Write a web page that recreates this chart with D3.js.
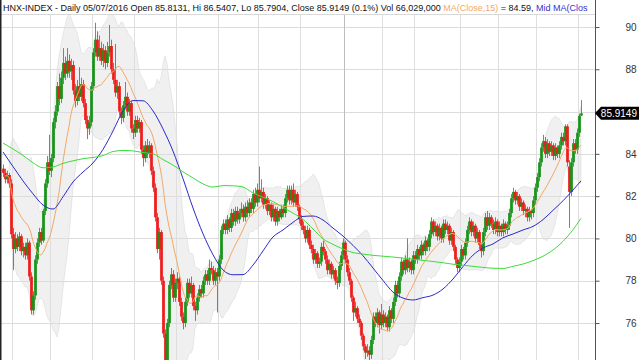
<!DOCTYPE html>
<html><head><meta charset="utf-8">
<script src="https://cdn.jsdelivr.net/npm/d3@7"></script>
<style>body{margin:0;background:#fff}svg{display:block}</style>
</head><body><svg id="c" width="640" height="360"></svg>
<script>
const open=[83.3,83.1,82.8,83.0,82.6,80.2,79.5,80.0,79.6,80.1,
79.4,79.6,79.2,79.8,78.2,76.6,77.3,79.0,79.8,80.3,
79.9,81.3,82.6,83.6,83.2,83.8,85.5,86.0,87.2,86.6,
87.6,88.3,87.8,88.4,87.9,88.2,87.0,86.5,87.2,86.7,
87.3,86.4,85.6,85.2,85.5,87.2,88.8,89.4,88.6,89.0,
88.4,88.9,88.3,88.8,89.1,88.0,87.5,86.9,87.2,86.0,
85.7,86.3,86.7,86.0,86.4,85.2,85.0,85.6,85.2,85.5,
84.2,83.8,84.4,84.0,84.4,83.2,82.4,81.0,79.5,80.3,
78.0,75.5,73.9,76.0,77.8,78.3,77.2,77.9,78.1,77.0,
76.3,76.0,77.0,77.9,77.4,77.8,76.8,76.6,77.2,77.6,
77.4,78.0,78.3,78.0,78.6,78.5,78.0,78.4,78.2,79.0,
80.4,80.7,80.4,80.9,80.5,81.2,80.8,81.3,80.9,81.2,
81.4,81.0,81.5,81.2,81.7,81.4,82.1,81.7,82.3,81.9,
82.2,81.6,81.9,81.3,81.6,81.0,81.4,80.8,81.3,81.0,
81.4,81.2,81.9,82.3,81.8,82.3,81.7,82.1,81.5,80.9,
80.6,80.4,80.0,80.4,79.7,79.5,79.0,79.3,78.8,78.9,
79.6,79.4,79.0,78.5,78.8,78.3,78.5,78.0,77.9,78.7,
79.2,79.8,79.0,78.4,78.0,77.2,76.5,76.7,76.2,76.0,
75.4,74.9,74.6,74.7,74.5,75.2,76.3,76.0,76.5,75.9,
76.4,76.0,76.3,75.8,76.6,76.2,77.0,77.8,77.4,78.2,
78.9,78.5,79.0,78.6,78.9,78.5,79.2,79.0,79.5,79.2,
79.7,79.4,79.9,79.6,80.2,80.8,80.3,80.6,80.1,80.5,
80.0,80.7,80.4,80.6,79.9,80.3,79.6,79.0,78.6,78.9,
79.5,79.2,79.8,80.4,80.8,80.3,80.6,80.0,80.3,79.7,
79.4,80.3,81.0,80.6,81.0,80.7,80.4,80.8,80.3,80.6,
80.3,80.7,80.4,80.6,81.2,81.9,82.2,81.8,82.0,81.5,
81.7,81.3,81.4,81.0,81.3,81.2,81.8,82.4,82.9,83.6,
84.3,84.6,84.0,84.5,84.1,84.4,83.9,84.3,84.0,84.4,
84.8,84.6,85.3,83.4,82.2,83.6,84.5,84.2,85.0,85.8131];
const high=[83.5,83.3,83.2,83.1,82.8,80.5,80.3,80.2,80.3,80.2,
79.8,79.8,80.0,79.9,78.4,77.5,79.2,80.0,80.5,80.5,
81.4,82.8,83.9,84.9,84.0,85.7,86.3,87.4,87.8,87.9,
89.0,88.6,89.0,88.7,88.5,88.4,87.3,87.5,88.1,87.6,
87.5,86.6,85.8,85.8,87.4,89.0,90.2,89.8,89.6,89.3,
89.2,89.1,89.3,90.1,89.4,88.3,89.2,87.5,87.4,86.2,
86.5,87.4,86.9,86.6,86.5,85.4,85.8,85.8,85.7,85.6,
84.4,84.6,84.7,84.6,84.5,83.4,82.6,81.2,80.5,80.4,
78.2,75.7,76.2,78.0,78.6,78.5,78.1,78.4,78.2,77.2,
76.5,77.2,78.1,78.1,78.2,77.9,77.0,77.4,77.8,77.8,
78.2,78.5,78.5,79.0,78.9,78.7,78.6,78.6,79.2,80.6,
80.9,80.9,81.1,81.0,81.4,81.4,81.5,81.5,81.4,81.7,
81.6,81.7,81.8,81.9,81.9,82.3,82.4,82.6,83.4,82.8,
82.4,82.1,82.0,81.8,81.7,81.6,81.5,81.5,81.4,81.6,
81.6,82.1,82.5,82.5,82.5,82.6,82.3,82.2,81.6,81.1,
80.8,80.6,80.6,80.5,79.9,79.7,79.5,79.4,79.1,79.8,
79.9,79.5,79.2,79.0,78.9,78.7,78.6,78.2,78.9,79.4,
80.0,79.9,79.2,78.6,78.1,77.3,77.0,76.8,76.4,76.1,
75.5,75.0,75.0,74.9,75.4,76.5,76.5,76.7,76.6,76.9,
76.6,76.5,76.4,76.8,76.7,77.2,78.0,78.0,78.4,79.1,
79.0,79.2,80.0,79.1,79.0,79.4,79.4,79.7,79.6,79.9,
79.8,80.1,80.0,80.4,81.0,80.9,80.8,80.7,80.7,80.6,
80.9,80.9,80.8,80.7,80.5,80.4,79.7,79.1,79.1,79.7,
79.6,80.0,80.6,81.0,80.9,80.8,80.7,80.5,80.4,79.8,
80.5,81.2,81.3,81.2,81.1,80.9,81.0,80.9,80.8,80.7,
80.9,80.8,80.8,81.4,82.1,82.4,82.3,82.2,82.1,81.9,
81.8,81.6,81.5,81.5,81.4,82.0,82.6,83.1,83.8,84.5,
84.9,84.8,84.7,84.6,84.6,84.5,84.5,84.4,84.6,85.0,
85.0,85.4,85.4,83.7,83.8,84.7,84.7,85.2,85.9,86.5407];
const low=[82.9,82.6,82.6,82.4,80.0,78.5,79.3,79.4,79.4,79.2,
79.1,79.0,79.0,78.0,76.4,76.4,77.1,78.8,79.6,79.7,
79.8,81.1,82.4,83.0,82.9,83.6,85.2,85.8,86.3,86.4,
87.3,87.5,87.6,87.6,87.5,86.8,86.2,86.3,86.5,86.5,
86.2,85.4,84.7,84.9,85.3,87.0,88.6,88.4,88.4,88.2,
88.1,88.0,88.1,88.6,87.8,87.3,86.7,86.6,85.8,85.4,
85.5,86.1,85.8,85.8,85.0,84.7,84.8,85.0,85.0,84.0,
83.4,83.6,83.8,83.8,83.0,82.2,80.8,79.3,79.0,77.8,
75.3,73.5,73.7,75.8,77.6,77.0,77.0,77.6,76.8,76.1,
75.7,75.8,76.8,77.2,77.2,76.6,76.1,76.4,77.0,77.2,
77.2,77.8,77.8,77.8,78.3,77.8,77.8,76.5,78.0,78.8,
80.2,80.2,80.2,80.3,80.3,80.6,80.6,80.7,80.7,81.0,
80.8,80.8,81.0,81.0,81.2,81.2,81.5,81.5,81.7,81.7,
81.4,81.4,81.1,81.1,80.8,80.8,80.6,80.6,80.8,80.9,
81.0,81.0,81.7,81.6,81.6,81.5,81.5,81.3,80.7,80.4,
80.2,79.8,79.8,79.5,79.3,78.8,78.8,78.6,78.6,78.7,
79.2,78.8,78.3,78.3,78.1,78.1,77.8,77.6,77.7,78.5,
79.0,78.8,78.2,77.8,77.0,76.1,76.3,76.0,75.8,75.2,
74.7,74.3,74.4,74.2,74.3,75.0,75.8,75.8,75.5,75.7,
75.8,75.8,75.6,75.6,76.0,76.0,76.8,77.2,77.2,78.0,
78.3,78.3,78.4,78.4,78.3,78.3,78.8,78.8,79.0,79.0,
79.2,79.2,79.4,79.4,80.0,80.1,80.1,79.9,79.9,79.8,
79.8,80.2,80.2,79.7,79.7,79.4,78.8,78.4,78.4,78.7,
79.0,79.0,79.6,80.2,80.1,80.1,79.8,79.8,79.5,79.1,
79.2,80.1,80.4,80.4,80.5,80.2,80.2,80.1,80.1,80.1,
80.1,80.2,80.2,80.4,81.0,81.7,81.6,81.6,81.3,81.3,
81.1,81.0,80.8,80.8,80.9,81.0,81.6,82.2,82.7,83.4,
84.1,83.8,83.8,83.9,83.9,83.7,83.7,83.8,83.8,84.2,
84.4,84.4,83.4,80.5,82.0,83.4,84.0,84.0,84.8,85.7904];
const close=[83.1,82.8,83.0,82.6,80.2,79.5,80.0,79.6,80.1,79.4,
79.6,79.2,79.8,78.2,76.6,77.3,79.0,79.8,80.3,79.9,
81.3,82.6,83.6,83.2,83.8,85.5,86.0,87.2,86.6,87.6,
88.3,87.8,88.4,87.9,88.2,87.0,86.5,87.2,86.7,87.3,
86.4,85.6,85.2,85.5,87.2,88.8,89.4,88.6,89.0,88.4,
88.9,88.3,88.8,89.1,88.0,87.5,86.9,87.2,86.0,85.7,
86.3,86.7,86.0,86.4,85.2,85.0,85.6,85.2,85.5,84.2,
83.8,84.4,84.0,84.4,83.2,82.4,81.0,79.5,80.3,78.0,
75.5,73.8,76.0,77.8,78.3,77.2,77.9,78.1,77.0,76.3,
76.0,77.0,77.9,77.4,77.8,76.8,76.6,77.2,77.6,77.4,
78.0,78.3,78.0,78.6,78.5,78.0,78.4,78.2,79.0,80.4,
80.7,80.4,80.9,80.5,81.2,80.8,81.3,80.9,81.2,81.4,
81.0,81.5,81.2,81.7,81.4,82.1,81.7,82.3,81.9,82.2,
81.6,81.9,81.3,81.6,81.0,81.4,80.8,81.3,81.0,81.4,
81.2,81.9,82.3,81.8,82.3,81.7,82.1,81.5,80.9,80.6,
80.4,80.0,80.4,79.7,79.5,79.0,79.3,78.8,78.9,79.6,
79.4,79.0,78.5,78.8,78.3,78.5,78.0,77.9,78.7,79.2,
79.8,79.0,78.4,78.0,77.2,76.5,76.7,76.2,76.0,75.4,
74.9,74.6,74.7,74.5,75.2,76.3,76.0,76.5,75.9,76.4,
76.0,76.3,75.8,76.6,76.2,77.0,77.8,77.4,78.2,78.9,
78.5,79.0,78.6,78.9,78.5,79.2,79.0,79.5,79.2,79.7,
79.4,79.9,79.6,80.2,80.8,80.3,80.6,80.1,80.5,80.0,
80.7,80.4,80.6,79.9,80.3,79.6,79.0,78.6,78.9,79.5,
79.2,79.8,80.4,80.8,80.3,80.6,80.0,80.3,79.7,79.4,
80.3,81.0,80.6,81.0,80.7,80.4,80.8,80.3,80.6,80.3,
80.7,80.4,80.6,81.2,81.9,82.2,81.8,82.0,81.5,81.7,
81.3,81.4,81.0,81.3,81.2,81.8,82.4,82.9,83.6,84.3,
84.6,84.0,84.5,84.1,84.4,83.9,84.3,84.0,84.4,84.8,
84.6,85.3,83.6,82.2,83.6,84.5,84.2,85.0,85.8,85.9149];

// Mid MA (blue) and long MA (green), read every 5th session (last = final session)
const maIdx=d3.range(0,290,5).concat([289]);
const midMA=[84.09,83.40,82.72,82.11,81.58,81.39,81.97,82.67,83.14,83.57,
84.21,85.08,86.03,86.52,86.51,86.03,85.18,84.13,82.83,81.44,
80.22,79.23,78.51,78.28,78.29,78.74,79.41,80.07,80.40,80.76,
81.04,81.06,80.87,80.49,80.11,79.67,79.18,78.60,78.01,77.46,
77.18,77.09,77.20,77.32,77.61,78.08,78.67,79.21,79.55,79.74,
80.03,80.21,80.40,80.57,80.89,81.33,81.78,82.29,82.72];
const longMA=[84.51,84.23,83.93,83.58,83.34,83.38,83.55,83.67,83.77,83.83,
83.92,84.11,84.16,84.14,84.06,84.00,83.73,83.47,83.15,82.86,
82.58,82.43,82.50,82.49,82.43,82.15,81.95,81.74,81.47,81.20,
80.90,80.45,79.98,79.72,79.50,79.33,79.26,79.20,79.16,79.12,
79.07,79.02,78.96,78.91,78.85,78.78,78.73,78.68,78.63,78.59,
78.58,78.68,78.79,78.95,79.16,79.45,79.86,80.41,80.95];

const monthStarts=[5,24,45,66,87,108,128,149,171,190,206,229,248,267,288];
const yearStart=171;
const yTicks=[76,78,80,82,84,86,88,90];
const hiddenTickLabel=86; // covered by the last-price tag in the reference
const lastPrice="85.9149";
const maPeriod=15;
const titleParts=[
 {t:"HNX-INDEX - Daily 05/07/2016 Open 85.8131, Hi 86.5407, Lo 85.7904, Close 85.9149 (0.1%) Vol 66,029,000 ",c:"#111"},
 {t:"MA(Close,15)",c:"#f4a862"},
 {t:" = 84.59, ",c:"#111"},
 {t:"Mid MA(Clos",c:"#3333cc"}];

const svg=d3.select("#c");
const W=640,H=360,axisX=595,topY=14;
const x=d3.scaleLinear().domain([0,296]).range([3,595]);
const y=d3.scaleLinear().domain([76,90]).range([323,27]);

svg.append("rect").attr("width",W).attr("height",H).attr("fill","#fff");
svg.append("defs").append("clipPath").attr("id","plot").append("rect")
  .attr("x",1).attr("y",topY).attr("width",axisX-1).attr("height",H-topY);
const g=svg.append("g").attr("clip-path","url(#plot)");

// bollinger-style band around MA15
const ma=[],up=[],lo=[];
close.forEach((c,i)=>{
  const w=close.slice(Math.max(0,i-maPeriod+1),i+1);
  const m=d3.mean(w);const s=Math.sqrt(d3.mean(w,v=>(v-m)*(v-m)));
  ma.push(m);up.push(m+2*s);lo.push(m-2*s);
});
const idx=d3.range(1,close.length);
g.append("path").datum(idx)
 .attr("d",d3.area().x(i=>x(i)).y0(i=>y(lo[i])).y1(i=>y(up[i])))
 .attr("fill","#000").attr("fill-opacity",0.06)
 .attr("stroke","#000").attr("stroke-opacity",0.07).attr("stroke-width",1);

// grid
g.selectAll(".hg").data(yTicks).join("line")
 .attr("x1",0).attr("x2",axisX).attr("y1",d=>Math.round(y(d))+0.5).attr("y2",d=>Math.round(y(d))+0.5)
 .attr("stroke","#dcdcdc").attr("stroke-width",1);
g.selectAll(".vg").data(monthStarts).join("line")
 .attr("x1",d=>Math.round(x(d))-0.5).attr("x2",d=>Math.round(x(d))-0.5)
 .attr("y1",topY).attr("y2",H)
 .attr("stroke",d=>d===yearStart?"#bdbdbd":"#dedede").attr("stroke-width",1);

// candles
const cg=g.append("g");
close.forEach((c,i)=>{
  const o=open[i],up_=c>=o,col=up_?"#128f12":"#ee1515";
  const cx=Math.round(x(i));
  cg.append("line").attr("x1",cx+0.5).attr("x2",cx+0.5)
    .attr("y1",y(high[i])).attr("y2",y(low[i])).attr("stroke",col).attr("stroke-width",1).attr("stroke-opacity",0.75);
  const yt=y(Math.max(o,c)),yb=y(Math.min(o,c));
  cg.append("rect").attr("x",cx-1).attr("width",3)
    .attr("y",yt).attr("height",Math.max(1,yb-yt)).attr("fill",col).attr("fill-opacity",0.85);
});

// MA lines
const line=d3.line().curve(d3.curveMonotoneX);
g.append("path").attr("d",line(idx.map(i=>[x(i),y(ma[i])])))
 .attr("fill","none").attr("stroke","#f4a862").attr("stroke-width",1);
g.append("path").attr("d",line(maIdx.map((k,j)=>[x(k),y(midMA[j])])))
 .attr("fill","none").attr("stroke","#2a2ac8").attr("stroke-width",1);
g.append("path").attr("d",line(maIdx.map((k,j)=>[x(k),y(longMA[j])])))
 .attr("fill","none").attr("stroke","#3ddc3d").attr("stroke-width",1);

// right axis
svg.append("line").attr("x1",axisX+0.5).attr("x2",axisX+0.5).attr("y1",0).attr("y2",H)
 .attr("stroke","#555").attr("stroke-width",1);
const ax=svg.append("g").attr("transform",`translate(${axisX+0.5},0)`)
 .call(d3.axisRight(y).tickValues(yTicks).tickSize(4).tickFormat(d=>d===hiddenTickLabel?"":d3.format("d")(d)));
ax.select(".domain").remove();
ax.selectAll(".tick line").attr("stroke","#555");
ax.selectAll(".tick text").attr("x",41).attr("text-anchor","end")
 .attr("font-family","Liberation Sans, Arial, sans-serif").attr("font-size",10).attr("fill","#333");

// last price tag
const py=y(close[close.length-1]);
svg.append("path").attr("d",`M${axisX},${py} L${axisX+6},${py-6.5} L639,${py-6.5} L639,${py+6.5} L${axisX+6},${py+6.5} Z`)
 .attr("fill","#000");
svg.append("text").attr("x",637).attr("y",py+3.6).attr("text-anchor","end")
 .attr("font-family","Liberation Sans, Arial, sans-serif").attr("font-size",10).attr("fill","#fff").text(lastPrice);

// title
svg.append("rect").attr("x",0).attr("y",0).attr("width",axisX).attr("height",topY).attr("fill","#fff");
svg.append("line").attr("x1",0).attr("x2",axisX).attr("y1",topY+0.5).attr("y2",topY+0.5).attr("stroke","#d8d8d8");
const tt=svg.append("text").attr("x",3).attr("y",10.5)
 .attr("font-family","Liberation Sans, Arial, sans-serif").attr("font-size",9);
titleParts.forEach(p=>tt.append("tspan").attr("fill",p.c).text(p.t));

// left border
svg.append("line").attr("x1",0.75).attr("x2",0.75).attr("y1",0).attr("y2",H).attr("stroke","#222").attr("stroke-width",1.5);
</script></body></html>
